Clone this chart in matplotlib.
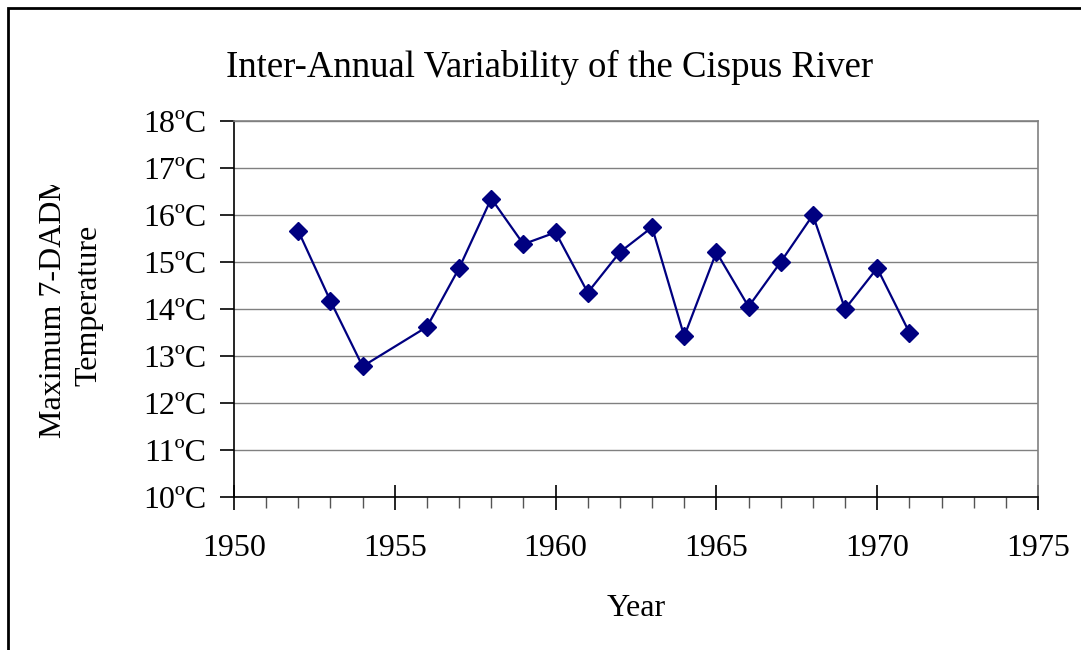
import matplotlib.pyplot as plt
from matplotlib.patches import Rectangle
from matplotlib.ticker import MultipleLocator, FuncFormatter
from matplotlib.transforms import Bbox

# Data (1955 has no value)
years = [1952, 1953, 1954, 1956, 1957, 1958, 1959, 1960, 1961, 1962,
         1963, 1964, 1965, 1966, 1967, 1968, 1969, 1970, 1971]
max_temp = [15.66, 14.17, 12.78, 13.62, 14.87, 16.35, 15.38, 15.63, 14.35, 15.21,
            15.74, 13.42, 15.21, 14.05, 15.00, 16.00, 14.00, 14.87, 13.50]

plt.rcParams['font.family'] = ['Liberation Serif', 'DejaVu Serif']

fig = plt.figure(figsize=(10.81, 6.5), dpi=100)
ax = fig.add_axes([234 / 1081, 153 / 650, 804 / 1081, 376 / 650])

ax.plot(years, max_temp, color='#000080', linewidth=1.6,
        marker='D', markersize=9, markerfacecolor='#000080',
        markeredgecolor='#000080', zorder=3)

ax.set_xlim(1950, 1975)
ax.set_ylim(10, 18)
ax.xaxis.set_major_locator(MultipleLocator(5))
ax.xaxis.set_minor_locator(MultipleLocator(1))
ax.yaxis.set_major_locator(MultipleLocator(1))
ax.yaxis.set_major_formatter(FuncFormatter(lambda v, p: '%d\u00baC' % v))

ax.grid(axis='y', color='#808080', linewidth=1.0)
ax.set_axisbelow(True)

for side in ['top', 'right']:
    ax.spines[side].set_color('#808080')
    ax.spines[side].set_linewidth(1.2)
for side in ['left', 'bottom']:
    ax.spines[side].set_color('black')
    ax.spines[side].set_linewidth(1.2)

ax.tick_params(axis='x', which='major', direction='inout', length=18,
               width=1.2, labelsize=23, pad=18)
ax.tick_params(axis='x', which='minor', direction='out', length=8,
               width=1.0, color='#555555')
ax.tick_params(axis='y', which='major', direction='out', length=10,
               width=1.2, labelsize=23, pad=10)

ax.set_xlabel('Year', fontsize=23, labelpad=22)

fig.text(550 / 1081, 1 - 67 / 650, 'Inter-Annual Variability of the Cispus River',
         fontsize=26.5, ha='center', va='center')

# y label is clipped at the top in the original
ylab = fig.text(71 / 1081, 1 - 305 / 650, 'Maximum 7-DADM\nTemperature',
                fontsize=23, rotation=90, ha='center', va='center',
                multialignment='center', linespacing=1.3)
ylab.set_clip_box(Bbox([[0, 0], [1081, 650 - 185]]))
ylab.set_clip_on(True)

# outer chart frame
fig.patches.append(Rectangle((8 / 1081, -0.05), 1.1, 1 - 8 / 650 + 0.05,
                             transform=fig.transFigure, fill=False,
                             edgecolor='black', linewidth=2.0))

fig.savefig('out.png', dpi=100)
